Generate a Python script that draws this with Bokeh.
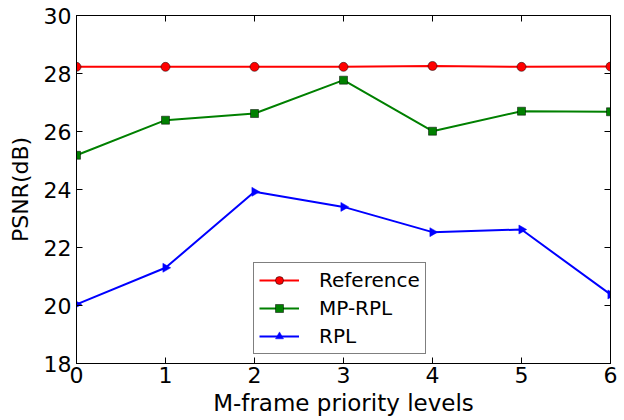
from bokeh.plotting import figure
from bokeh.models import LinearAxis, Legend, LegendItem, Range1d, FixedTicker
from bokeh.embed import file_html
from bokeh.resources import INLINE

# M-frame priority levels and PSNR (dB) per scheme
levels = [0, 1, 2, 3, 4, 5, 6]
reference = [28.23, 28.23, 28.23, 28.23, 28.26, 28.23, 28.24]
mp_rpl = [25.18, 26.39, 26.62, 27.77, 26.01, 26.70, 26.68]
rpl = [20.04, 21.30, 23.92, 23.40, 22.53, 22.62, 20.38]

x_ticks = [0, 1, 2, 3, 4, 5, 6]
y_ticks = [18, 20, 22, 24, 26, 28, 30]

FONT = "DejaVu Sans"

p = figure(
    width=624, height=420,
    x_range=Range1d(0, 6), y_range=Range1d(18, 30),
    min_border_left=76, min_border_right=14,
    min_border_top=15, min_border_bottom=57,
    output_backend="svg", toolbar_location=None,
    background_fill_color="white", border_fill_color="white",
)
p.grid.visible = False
p.outline_line_color = "black"
p.outline_line_width = 1

# tick-only axes on the top and right edges (labels blanked out)
top_axis = LinearAxis(ticker=FixedTicker(ticks=x_ticks),
                      major_label_overrides={t: "" for t in x_ticks})
right_axis = LinearAxis(ticker=FixedTicker(ticks=y_ticks),
                        major_label_overrides={t: "" for t in y_ticks})
p.add_layout(right_axis, "right")
p.add_layout(top_axis, "above")

xa = p.below[0]
ya = p.left[0]
xa.ticker = FixedTicker(ticks=x_ticks)
ya.ticker = FixedTicker(ticks=y_ticks)

for ax in (xa, ya, top_axis, right_axis):
    ax.major_tick_in = 6
    ax.major_tick_out = 0
    ax.minor_tick_line_color = None
    ax.axis_line_color = "black"
    ax.major_tick_line_color = "black"
    ax.major_label_text_font = FONT
    ax.major_label_text_color = "black"
    ax.axis_label_text_font = FONT
    ax.axis_label_text_font_style = "normal"
    ax.axis_label_text_color = "black"

for ax in (top_axis, right_axis):
    ax.major_label_standoff = 0

xa.axis_label = "M-frame priority levels"
xa.axis_label_text_font_size = "23px"
xa.major_label_text_font_size = "22px"
xa.major_label_standoff = 3
xa.axis_label_standoff = 4

ya.axis_label = "PSNR(dB)"
ya.axis_label_text_font_size = "22px"
ya.major_label_text_font_size = "22px"
ya.major_label_standoff = 5
ya.axis_label_standoff = 8

r_line = p.line(levels, reference, line_color="#ff0000", line_width=2)
r_pts = p.scatter(levels, reference, marker="circle", size=9,
                  fill_color="#ff0000", line_color="black", line_width=0.5)
m_line = p.line(levels, mp_rpl, line_color="#008000", line_width=2)
m_pts = p.scatter(levels, mp_rpl, marker="square", size=8,
                  fill_color="#008000", line_color="black", line_width=0.5)
b_line = p.line(levels, rpl, line_color="#0000ff", line_width=2)
b_pts = p.scatter(levels, rpl, marker="triangle", angle=-1.5708, size=9,
                  fill_color="#0000ff", line_color="#0000ff", line_width=0.5)

legend = Legend(
    items=[
        LegendItem(label="Reference", renderers=[r_line, r_pts]),
        LegendItem(label="MP-RPL", renderers=[m_line, m_pts]),
        LegendItem(label="RPL", renderers=[b_line, b_pts]),
    ],
    location=(177, 9),
    label_text_font=FONT, label_text_font_size="20px",
    label_text_color="black",
    glyph_width=40, glyph_height=20, label_height=20,
    label_standoff=20, spacing=4, padding=5, margin=0,
    border_line_color="black", border_line_width=1,
    background_fill_color="white", background_fill_alpha=1,
)
p.add_layout(legend, "center")

open("out.html", "w").write(file_html(p, INLINE))
